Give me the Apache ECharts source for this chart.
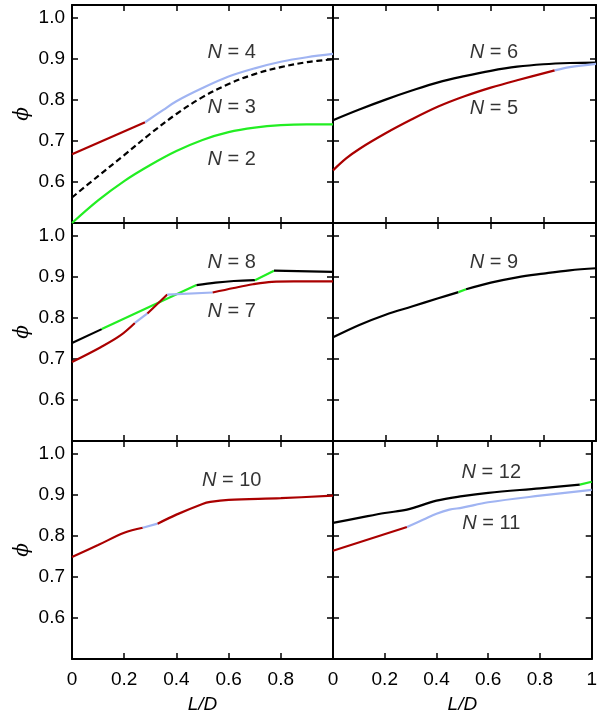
<!DOCTYPE html>
<html>
<head>
<meta charset="utf-8">
<script src="https://cdn.jsdelivr.net/npm/echarts@6/dist/echarts.min.js"></script>
<style>html,body{margin:0;padding:0;background:#fff}#c{width:600px;height:719px}</style>
</head>
<body>
<div id="c"></div>
<script>
// ---- tick values ----
const xTicks = [0, 0.2, 0.4, 0.6, 0.8, 1];
const yTicks = [0.6, 0.7, 0.8, 0.9, 1.0];

// ---- panel (0,0): N = 2, 3, 4 ----
const n2Green = [[0,0.500],[0.1,0.555],[0.2,0.602],[0.3,0.641],[0.4,0.675],[0.5,0.702],[0.6,0.721],[0.7,0.732],[0.8,0.738],[0.9,0.740],[1,0.740]];
const n3Dashed = [[0,0.562],[0.1,0.614],[0.2,0.665],[0.3,0.717],[0.4,0.765],[0.5,0.806],[0.6,0.838],[0.7,0.862],[0.8,0.879],[0.9,0.891],[1,0.898]];
const n4Red = [[0,0.667],[0.28,0.745]];
const n4Blue = [[0.28,0.745],[0.35,0.775],[0.4,0.796],[0.5,0.828],[0.6,0.856],[0.7,0.876],[0.8,0.892],[0.9,0.903],[1,0.911]];

// ---- panel (0,1): N = 5, 6 ----
const n6Black = [[0,0.750],[0.1,0.776],[0.2,0.800],[0.3,0.822],[0.4,0.842],[0.5,0.857],[0.6,0.870],[0.7,0.880],[0.8,0.886],[0.9,0.889],[1,0.890]];
const n5Red = [[0,0.628],[0.05,0.657],[0.1,0.680],[0.2,0.718],[0.3,0.752],[0.4,0.783],[0.5,0.808],[0.6,0.829],[0.7,0.847],[0.843,0.871]];
const n5Blue = [[0.843,0.871],[0.9,0.879],[1,0.887]];

// ---- panel (1,0): N = 7, 8 ----
const n8Black1 = [[0,0.738],[0.114,0.772]];
const n8Green1 = [[0.114,0.772],[0.477,0.879]];
const n8Black2 = [[0.477,0.879],[0.55,0.885],[0.62,0.889],[0.701,0.891]];
const n8Green2 = [[0.701,0.891],[0.774,0.914]];
const n8Black3 = [[0.774,0.914],[1,0.911]];
const n7Red1 = [[0,0.692],[0.11,0.728],[0.184,0.756],[0.241,0.787]];
const n7Blue1 = [[0.241,0.787],[0.289,0.810]];
const n7Red2 = [[0.289,0.810],[0.365,0.856]];
const n7Blue2 = [[0.365,0.856],[0.539,0.861]];
const n7Red3 = [[0.539,0.861],[0.62,0.872],[0.693,0.881],[0.766,0.887],[0.85,0.888],[1,0.888]];

// ---- panel (1,1): N = 9 ----
const n9Black1 = [[0,0.752],[0.1,0.782],[0.2,0.807],[0.3,0.827],[0.4,0.847],[0.477,0.862]];
const n9Green = [[0.477,0.862],[0.506,0.869]];
const n9Black2 = [[0.506,0.869],[0.6,0.885],[0.7,0.898],[0.8,0.907],[0.9,0.915],[1,0.920]];

// ---- panel (2,0): N = 10 ----
const n10Red1 = [[0,0.748],[0.1,0.777],[0.2,0.807],[0.271,0.819]];
const n10Blue = [[0.271,0.819],[0.328,0.829]];
const n10Red2 = [[0.328,0.829],[0.4,0.851],[0.5,0.877],[0.53,0.882],[0.6,0.887],[0.8,0.891],[1,0.897]];

// ---- panel (2,1): N = 11, 12 ----
const n12Black = [[0,0.831],[0.1,0.843],[0.2,0.855],[0.286,0.863],[0.4,0.885],[0.5,0.896],[0.6,0.904],[0.8,0.915],[0.954,0.924]];
const n12Green = [[0.954,0.924],[1,0.931]];
const n11Red = [[0,0.763],[0.286,0.821]];
const n11Blue = [[0.286,0.821],[0.35,0.839],[0.4,0.853],[0.45,0.863],[0.5,0.868],[0.6,0.881],[0.8,0.897],[1,0.911]];

// ---- curve labels [x, y, N] ----
const labels0 = [[0.612,0.914,'4'],[0.612,0.780,'3'],[0.612,0.655,'2']];
const labels1 = [[0.612,0.914,'6'],[0.612,0.778,'5']];
const labels2 = [[0.612,0.935,'8'],[0.612,0.814,'7']];
const labels3 = [[0.612,0.934,'9']];
const labels4 = [[0.612,0.933,'10']];
const labels5 = [[0.612,0.954,'12'],[0.612,0.829,'11']];

const RED = '#aa0000', BLUE = '#a0b4f2', GREEN = '#22ee22', BLACK = '#000000';
const FONT = '"Liberation Sans", Arial, Helvetica, sans-serif';

const segments = [
  [0, n2Green, GREEN], [0, n3Dashed, BLACK, 'dashed'], [0, n4Red, RED], [0, n4Blue, BLUE],
  [1, n6Black, BLACK], [1, n5Red, RED], [1, n5Blue, BLUE],
  [2, n8Black1, BLACK], [2, n8Green1, GREEN], [2, n8Black2, BLACK], [2, n8Green2, GREEN], [2, n8Black3, BLACK],
  [2, n7Red1, RED], [2, n7Blue1, BLUE], [2, n7Red2, RED], [2, n7Blue2, BLUE], [2, n7Red3, RED],
  [3, n9Black1, BLACK], [3, n9Green, GREEN], [3, n9Black2, BLACK],
  [4, n10Red1, RED], [4, n10Blue, BLUE], [4, n10Red2, RED],
  [5, n12Black, BLACK], [5, n12Green, GREEN], [5, n11Red, RED], [5, n11Blue, BLUE]
];
const panelLabels = [labels0, labels1, labels2, labels3, labels4, labels5];

const grids = [];
const xAxes = [];
const yAxes = [];
const rowsTop = [5, 223, 441];
for (let i = 0; i < 6; i++) {
  const row = Math.floor(i / 2), col = i % 2;
  grids.push({
    left: col === 0 ? 72 : 333, top: rowsTop[row],
    width: col === 0 ? 261 : 263, height: 218,
    show: false, containLabel: false
  });
}
const tickStyle = { show: true, inside: true, length: 6, lineStyle: { color: '#000', width: 1.5 } };
const lineStyle = { show: true, onZero: false, lineStyle: { color: '#000', width: 2 } };
for (let i = 0; i < 6; i++) {
  const row = Math.floor(i / 2), col = i % 2;
  const bottomRow = row === 2, leftCol = col === 0;
  // bottom x axis
  xAxes.push({
    type: 'value', gridIndex: i, position: 'bottom', min: 0, max: 1, interval: 0.2,
    axisLine: lineStyle, splitLine: { show: false }, axisTick: tickStyle,
    axisLabel: {
      show: bottomRow, margin: 11, fontSize: 19, color: '#000', fontFamily: FONT,
      showMaxLabel: !leftCol,
      formatter: v => (v === 0 ? '0' : (Math.abs(v - 1) < 1e-9 ? '1' : v.toFixed(1)))
    },
    name: bottomRow ? 'L/D' : '', nameLocation: 'middle', nameGap: 36,
    nameTextStyle: { fontSize: 19, fontStyle: 'italic', color: '#000', fontFamily: FONT }
  });
  // top x axis (mirror ticks)
  xAxes.push({
    type: 'value', gridIndex: i, position: 'top', min: 0, max: 1, interval: 0.2,
    axisLine: lineStyle, splitLine: { show: false }, axisTick: tickStyle,
    axisLabel: { show: false }
  });
  // left y axis
  yAxes.push({
    type: 'value', gridIndex: i, position: 'left', min: 0.5, max: 1.03, interval: 0.1,
    axisLine: lineStyle, splitLine: { show: false }, axisTick: tickStyle,
    axisLabel: {
      show: leftCol, margin: 7, fontSize: 19, color: '#000', fontFamily: FONT,
      showMinLabel: false, showMaxLabel: false,
      formatter: v => v.toFixed(1)
    },
    name: leftCol ? '\u03D5' : '', nameLocation: 'middle', nameGap: 39, nameRotate: 90,
    nameTextStyle: { fontSize: 20, fontStyle: 'italic', color: '#000', fontFamily: '"DejaVu Serif", "Liberation Serif", serif' }
  });
  // right y axis (mirror ticks)
  yAxes.push({
    type: 'value', gridIndex: i, position: 'right', min: 0.5, max: 1.03, interval: 0.1,
    axisLine: lineStyle, splitLine: { show: false }, axisTick: tickStyle,
    axisLabel: { show: false }
  });
}

const series = [];
segments.forEach(([g, data, color, type]) => {
  series.push({
    type: 'line', xAxisIndex: 2 * g, yAxisIndex: 2 * g, data: data,
    showSymbol: false, symbol: 'none', smooth: data.length > 2 ? 0.35 : false,
    silent: true, animation: false, clip: false,
    lineStyle: { color: color, width: 2.2, type: type === 'dashed' ? [6, 3.5] : 'solid' },
    z: 3
  });
});
panelLabels.forEach((lab, g) => {
  series.push({
    type: 'scatter', xAxisIndex: 2 * g, yAxisIndex: 2 * g, data: lab,
    symbolSize: 1, itemStyle: { color: 'rgba(0,0,0,0)' }, silent: true, animation: false,
    label: {
      show: true, position: 'inside', color: '#000',
      formatter: p => '{i|N}{r| = ' + p.value[2] + '}',
      rich: {
        i: { fontSize: 20, fontStyle: 'italic', fontFamily: FONT, color: '#000' },
        r: { fontSize: 20, fontFamily: FONT, color: '#000' }
      }
    },
    z: 5
  });
});

const chart = echarts.init(document.getElementById('c'), null, { renderer: 'canvas' });
chart.setOption({
  animation: false,
  backgroundColor: '#fff',
  grid: grids, xAxis: xAxes, yAxis: yAxes, series: series
});
</script>
</body>
</html>
